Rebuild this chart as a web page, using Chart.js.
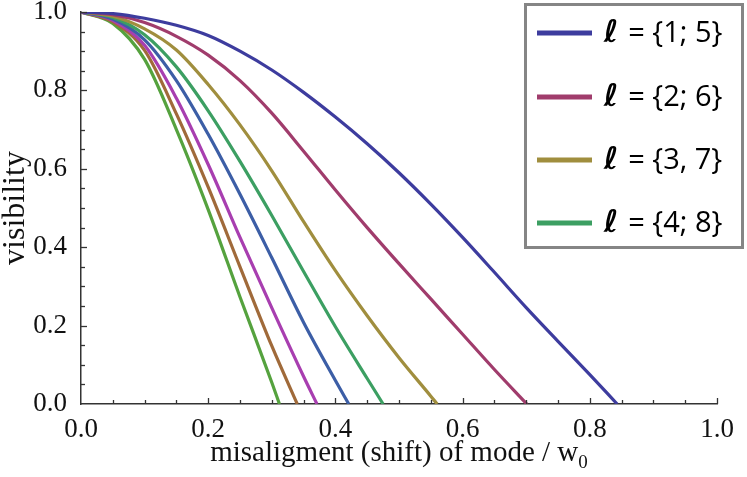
<!DOCTYPE html>
<html>
<head>
<meta charset="utf-8">
<script src="https://cdn.jsdelivr.net/npm/chart.js@4.4.1/dist/chart.umd.min.js"></script>
<style>
  html, body { margin: 0; padding: 0; background: #fff; }
  #wrap { width: 747px; height: 477px; position: relative; }
</style>
</head>
<body>
<div id="wrap"><canvas id="chart"></canvas></div>
<script>
// shift grid (x) shared by every curve; each curve stops where it hits zero
const X_GRID = [0, 0.05, 0.10, 0.15, 0.20, 0.25, 0.30, 0.35, 0.40, 0.45, 0.50, 0.55, 0.60, 0.65, 0.70, 0.75, 0.80];

// outer curves (l = 1..4)
const blueOuter    = [1, 0.996, 0.984, 0.966, 0.94, 0.90, 0.852, 0.795, 0.732, 0.664, 0.59, 0.51, 0.425, 0.336, 0.246, 0.16, 0.075];
const magentaOuter = [1, 0.993, 0.973, 0.938, 0.89, 0.825, 0.742, 0.645, 0.546, 0.45, 0.358, 0.268, 0.178, 0.088];
const goldOuter    = [1, 0.989, 0.957, 0.903, 0.815, 0.712, 0.595, 0.465, 0.34, 0.225, 0.118, 0.02];
const greenOuter   = [1, 0.986, 0.942, 0.86, 0.748, 0.619, 0.481, 0.338, 0.197, 0.065];
// inner curves (l = 5..8)
const blueInner    = [1, 0.982, 0.929, 0.825, 0.688, 0.535, 0.373, 0.208, 0.06];
const purpleInner  = [1, 0.979, 0.915, 0.78, 0.611, 0.425, 0.245, 0.07];
const brownInner   = [1, 0.975, 0.902, 0.74, 0.553, 0.35, 0.148];
const greenInner   = [1, 0.971, 0.879, 0.70, 0.496, 0.273, 0.055];

// x where each curve reaches visibility 0
const END_X = [0.843, 0.701, 0.560, 0.475, 0.421, 0.371, 0.340, 0.312];

const LEGEND_LABELS = ['ℓ = {1; 5}', 'ℓ = {2; 6}', 'ℓ = {3, 7}', 'ℓ = {4; 8}'];
const X_TICKS = [0, 0.2, 0.4, 0.6, 0.8, 1.0];
const Y_TICKS = [0, 0.2, 0.4, 0.6, 0.8, 1.0];
const MINOR_STEP = 0.05;

const SERIES = [blueOuter, magentaOuter, goldOuter, greenOuter, blueInner, purpleInner, brownInner, greenInner];
const COLORS = ['#3d3c9e', '#a03c6c', '#a08e3e', '#3c9f62', '#3c5ea6', '#a83eb0', '#a06a3a', '#55a23e'];

function buildPoints(vals, endX) {
    const pts = vals.map((v, i) => ({ x: X_GRID[i], y: v }));
    pts.push({ x: endX, y: 0 });
    return pts;
}

const datasets = SERIES.map((vals, i) => ({
    label: i < 4 ? LEGEND_LABELS[i] : '',
    data: buildPoints(vals, END_X[i]),
    borderColor: COLORS[i],
    borderWidth: 3.2,
    pointRadius: 0,
    fill: false,
    cubicInterpolationMode: 'monotone'
}));

// inward ticks, x title with subscript, boxed legend
const decor = {
    id: 'decor',
    afterDraw(chart) {
        const ctx = chart.ctx;
        const xs = chart.scales.x, ys = chart.scales.y;
        const area = chart.chartArea;
        ctx.save();
        ctx.strokeStyle = '#333';
        ctx.lineWidth = 1.3;
        const n = Math.round(1 / MINOR_STEP);
        for (let k = 1; k <= n; k++) {
            const v = k * MINOR_STEP;
            const len = k % 4 === 0 ? 6 : 4;
            const px = Math.round(xs.getPixelForValue(v)) + 0.5;
            ctx.beginPath();
            ctx.moveTo(px, area.bottom);
            ctx.lineTo(px, area.bottom - len);
            ctx.stroke();
            const py = Math.round(ys.getPixelForValue(v)) + 0.5;
            ctx.beginPath();
            ctx.moveTo(area.left, py);
            ctx.lineTo(area.left + len, py);
            ctx.stroke();
        }

        // x axis title with subscript
        ctx.fillStyle = '#111';
        ctx.textBaseline = 'alphabetic';
        ctx.textAlign = 'left';
        const main = 'misaligment (shift) of mode / w';
        const sub = '0';
        ctx.font = '29px "Liberation Serif", serif';
        const wMain = ctx.measureText(main).width;
        ctx.font = '19px "Liberation Serif", serif';
        const wSub = ctx.measureText(sub).width;
        const x0 = (area.left + area.right) / 2 - (wMain + wSub) / 2;
        ctx.font = '29px "Liberation Serif", serif';
        ctx.fillText(main, x0, 461);
        ctx.font = '19px "Liberation Serif", serif';
        ctx.fillText(sub, x0 + wMain, 468);

        // legend box
        ctx.fillStyle = '#fff';
        ctx.fillRect(524, 3, 220, 246);
        ctx.strokeStyle = '#858585';
        ctx.lineWidth = 3;
        ctx.strokeRect(525.5, 4.5, 217, 243);
        const rows = [33, 97, 160, 223];
        chart.data.datasets.slice(0, 4).forEach((ds, i) => {
            const y = rows[i];
            ctx.strokeStyle = ds.borderColor;
            ctx.lineWidth = 5;
            ctx.beginPath();
            ctx.moveTo(537, y);
            ctx.lineTo(592, y);
            ctx.stroke();
            ctx.fillStyle = '#000';
            ctx.textBaseline = 'middle';
            ctx.font = 'italic bold 31px "DejaVu Sans", sans-serif';
            const ell = ds.label.charAt(0);
            ctx.fillText(ell, 604, y + 1);
            const we = ctx.measureText(ell).width;
            ctx.font = '29px "Open Sans", sans-serif';
            ctx.fillText(ds.label.slice(1), 606 + we, y + 1);
        });
        ctx.restore();
    }
};

new Chart(document.getElementById('chart'), {
    type: 'line',
    data: { datasets },
    options: {
        responsive: true,
        maintainAspectRatio: false,
        animation: false,
        layout: { padding: { top: 12, right: 30, left: 0, bottom: 0 } },
        plugins: { legend: { display: false }, tooltip: { enabled: false } },
        scales: {
            x: {
                type: 'linear',
                min: 0, max: 1,
                afterFit: (s) => { s.height = 73; s.paddingLeft = 0; s.paddingRight = 0; },
                afterBuildTicks: (s) => { s.ticks = X_TICKS.map(v => ({ value: v })); },
                grid: { display: false },
                border: { display: true, color: '#333', width: 1.5 },
                ticks: {
                    padding: 2,
                    color: '#111',
                    font: { family: '"Liberation Serif", serif', size: 27 },
                    callback: (v) => Number(v).toFixed(1)
                }
            },
            y: {
                min: 0, max: 1,
                afterFit: (s) => { s.width = 81; s.paddingTop = 0; s.paddingBottom = 0; },
                afterBuildTicks: (s) => { s.ticks = Y_TICKS.map(v => ({ value: v })); },
                grid: { display: false },
                border: { display: true, color: '#333', width: 1.5 },
                ticks: {
                    padding: 6,
                    color: '#111',
                    font: { family: '"Liberation Serif", serif', size: 27 },
                    callback: (v) => Number(v).toFixed(1)
                },
                title: {
                    display: true,
                    text: 'visibility',
                    color: '#111',
                    font: { family: '"Liberation Serif", serif', size: 32, lineHeight: 1 },
                    padding: 0
                }
            }
        }
    },
    plugins: [decor]
});
</script>
</body>
</html>
